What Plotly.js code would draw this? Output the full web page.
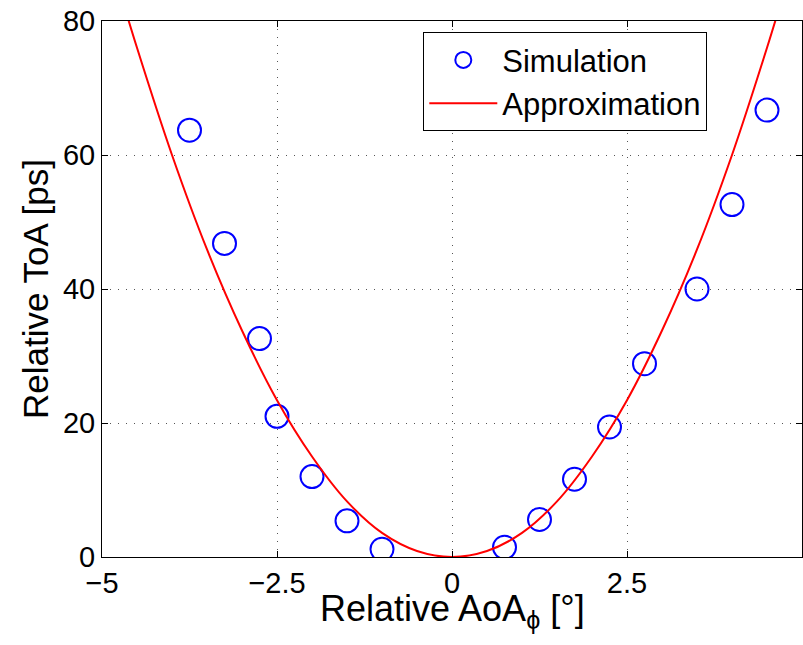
<!DOCTYPE html>
<html><head><meta charset="utf-8">
<script src="https://cdn.plot.ly/plotly-3.0.1.min.js"></script>
<style>html,body{margin:0;padding:0;background:#fff;overflow:hidden}</style>
</head><body><div id="chart" style="width:803px;height:645px"></div>
<script>
// Simulation points
const simAoA = [-3.75, -3.25, -2.75, -2.5, -2, -1.5, -1, 0.75, 1.25, 1.75, 2.25, 2.75, 3.5, 4, 4.5];
const simToA = [63.7, 46.8, 32.6, 21.0, 12.0, 5.4, 1.15, 1.45, 5.6, 11.6, 19.4, 28.85, 40.0, 52.6, 66.7];
// Approximation curve samples
const approxAoA = [-4.75, -4.5, -4, -3.5, -3, -2.5, -2, -1.5, -1, -0.5, 0, 0.5, 1, 1.5, 2, 2.5, 3, 3.5, 4, 4.5, 4.75];
const approxToA = [84.6, 76.0, 60.0, 45.9, 33.8, 23.4, 15.0, 8.3, 3.6, 0.9, 0, 0.9, 3.6, 8.3, 15.0, 23.4, 33.8, 45.9, 60.0, 76.0, 84.6];
// Axis ticks
const xTicks = [-5, -2.5, 0, 2.5, 5];
const yTicks = [0, 20, 40, 60, 80];
const xTitle = 'Relative AoA<sub>ϕ</sub> [°]';
const yTitle = 'Relative ToA [ps]';

const FONT = 'Helvetica, Arial, "Liberation Sans", sans-serif';

const traces = [
  {
    x: simAoA, y: simToA, type: 'scatter', mode: 'markers', name: 'Simulation',
    marker: {symbol: 'circle-open', size: 23, color: '#0000ff', line: {width: 2, color: '#0000ff'}}
  },
  {
    x: approxAoA, y: approxToA, type: 'scatter', mode: 'lines', name: 'Approximation',
    line: {color: '#ff0000', width: 2, shape: 'spline'}
  }
];

const axisCommon = {
  ticks: 'inside', ticklen: 6, tickwidth: 1, tickcolor: 'black',
  showline: true, linecolor: 'black', linewidth: 1, mirror: 'ticks',
  showgrid: true, gridcolor: '#555', griddash: '1px,7px', gridwidth: 1,
  zeroline: false, tickfont: {family: FONT, size: 29, color: 'black'}
};

const layout = {
  width: 803, height: 645,
  margin: {l: 102, r: 1, t: 21, b: 88},
  paper_bgcolor: 'white', plot_bgcolor: 'white',
  font: {family: FONT, size: 29, color: 'black'},
  showlegend: true,
  xaxis: Object.assign({}, axisCommon, {
    range: [-5, 5], tickvals: xTicks
  }),
  yaxis: Object.assign({}, axisCommon, {
    range: [0, 80], tickvals: yTicks,
    title: {text: yTitle, standoff: 3, font: {family: FONT, size: 35, color: 'black'}}
  }),
  annotations: [{
    text: xTitle, xref: 'paper', yref: 'paper', x: 0.5, y: 0,
    xanchor: 'center', yanchor: 'middle', yshift: -54, showarrow: false,
    font: {family: FONT, size: 36, color: 'black'}
  }],
  legend: {
    x: 0.459, y: 0.979, xanchor: 'left', yanchor: 'top',
    bordercolor: 'black', borderwidth: 1, bgcolor: 'white',
    itemwidth: 68,
    font: {family: FONT, size: 31, color: 'black'}
  }
};

Plotly.newPlot('chart', traces, layout, {displayModeBar: false, staticPlot: true});
</script>
</body></html>
